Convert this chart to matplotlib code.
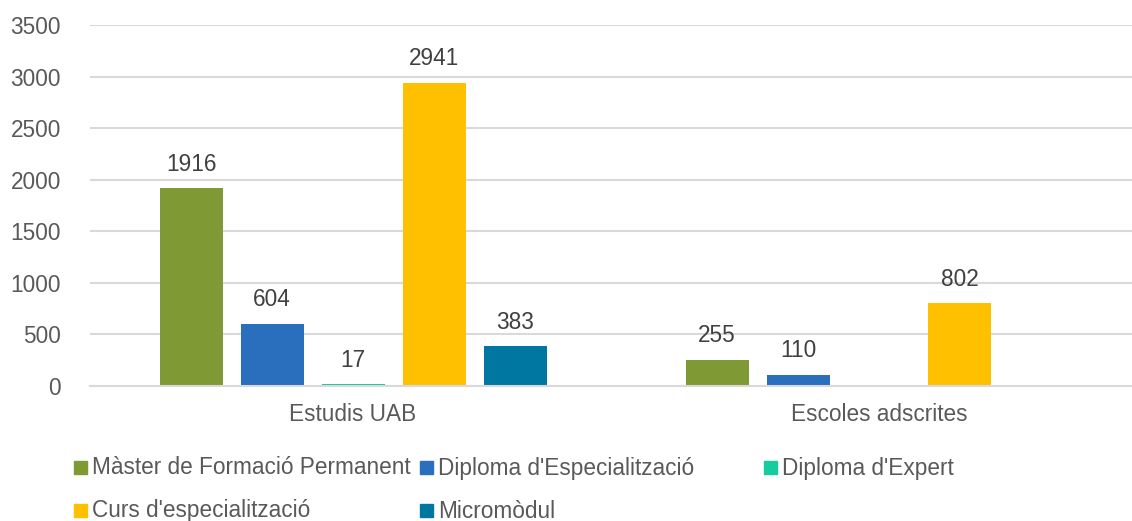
import matplotlib
matplotlib.use("Agg")
import matplotlib.pyplot as plt
from matplotlib.patches import Rectangle
import numpy as np

plt.rcParams['font.family'] = ['Liberation Sans', 'DejaVu Sans']

categories = ["Estudis UAB", "Escoles adscrites"]
series_names = ["Màster de Formació Permanent", "Diploma d'Especialització",
                "Diploma d'Expert", "Curs d'especialització", "Micromòdul"]
values = {
    "Màster de Formació Permanent": [1916, 255],
    "Diploma d'Especialització": [604, 110],
    "Diploma d'Expert": [17, None],
    "Curs d'especialització": [2941, 802],
    "Micromòdul": [383, None],
}
colors = ["#7F9A34", "#2A6EBE", "#14CC9E", "#FFC000", "#0077A0"]
yticks = [0, 500, 1000, 1500, 2000, 2500, 3000, 3500]

W, H = 1132, 521
fig = plt.figure(figsize=(W / 100, H / 100), dpi=100)
ax = fig.add_axes([90 / W, 1 - 386 / H, 1 - 90 / W, (386 - 25) / H])

step = 81 / 526
bw = 63 / 526
x = np.arange(len(categories))
label_color = "#404040"
tick_color = "#595959"
fs = 16.3
for i, name in enumerate(series_names):
    offs = (i - 2) * step
    for j, v in enumerate(values[name]):
        if v is None:
            continue
        ax.bar(x[j] + offs, v, width=bw, color=colors[i], zorder=3)
        ax.annotate(str(v), (x[j] + offs, v), xytext=(0, 9), textcoords="offset points",
                    ha="center", va="bottom", fontsize=fs, color=label_color)

ax.set_xlim(-0.5, -0.5 + (W - 90) / 526)
ax.set_ylim(0, 3500)
ax.set_yticks(yticks)
ax.set_yticklabels([str(t) for t in yticks])
ax.set_xticks(x)
ax.set_xticklabels(categories)
ax.tick_params(axis="y", length=0, pad=21, labelsize=fs, labelcolor=tick_color)
ax.tick_params(axis="x", length=0, pad=12, labelsize=fs, labelcolor=tick_color)
ax.grid(axis="y", color="#D9D9D9", linewidth=1.5, zorder=0)
for s in ["top", "right", "left"]:
    ax.spines[s].set_visible(False)
ax.spines["bottom"].set_color("#D9D9D9")
ax.spines["bottom"].set_linewidth(1.5)
ax.spines["bottom"].set_zorder(4)

# Legend (manual layout, two rows)
leg_pos = [(74, 467), (420, 467), (764, 467), (74, 510), (420, 510)]
msz = 13
for (lx, ly), name, c in zip(leg_pos, series_names, colors):
    fig.add_artist(Rectangle((lx / W, 1 - (ly + msz / 2) / H), msz / W, msz / H,
                             transform=fig.transFigure, color=c))
    fig.text((lx + msz + 5) / W, 1 - (ly + 1) / H, name, ha="left", va="center",
             fontsize=fs, color=tick_color)

fig.savefig("out.png", dpi=100)
